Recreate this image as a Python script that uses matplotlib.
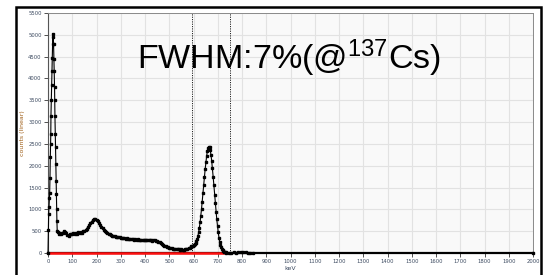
import matplotlib
matplotlib.use("Agg")
import matplotlib.pyplot as plt
from matplotlib.patches import Rectangle

plt.rcParams['mathtext.fontset'] = 'custom'
plt.rcParams['mathtext.rm'] = 'Liberation Sans'
plt.rcParams['mathtext.it'] = 'Liberation Sans'

# ---- data ----
# low-energy peak
peak1_kev = [0, 1.4, 2.7, 4.0, 5.4, 6.8, 8.2, 9.5, 10.9, 11.5, 12.2, 13.6, 15.0, 16.3, 17.7,
             19.0, 20.4, 21.8, 23.0, 24.5, 25.8, 27.0, 27.7, 28.6, 30.0, 31.3, 32.6, 34.0,
             34.7, 35.4, 36.7, 38.0]
peak1_counts = [0, 520, 890, 1050, 1250, 1370, 1730, 2190, 2500, 2730, 3150, 3500, 3840, 4180,
                4480, 4800, 5030, 4950, 4780, 4450, 4180, 3800, 3500, 3150, 2730, 2420, 2040,
                1660, 1350, 1010, 740, 510]
# continuum 40..585 keV every 5 keV
cont_kev = list(range(40, 586, 5))
cont_counts = [470, 435, 460, 425, 465, 505, 475, 455, 415, 390, 425, 445, 425, 455, 435, 465,
               445, 475, 450, 480, 465, 495, 500, 525, 560, 605, 640, 695, 720, 755, 770, 785,
               760, 735, 690, 645, 600, 565, 530, 505, 470, 465, 440, 425, 405, 400, 385, 390,
               370, 375, 358, 360, 347, 350, 336, 345, 327, 338, 322, 325, 316, 318, 320, 308,
               315, 302, 310, 298, 307, 297, 300, 303, 292, 300, 290, 297, 288, 295, 285, 292,
               294, 284, 275, 262, 245, 225, 205, 185, 170, 155, 140, 130, 120, 112, 105, 100,
               95, 92, 88, 85, 82, 80, 82, 78, 80, 85, 90, 100, 112, 125]
# 662 keV photopeak, every 3 keV
peak2_kev = list(range(588, 736, 3))
peak2_counts = [140, 150, 158, 165, 175, 190, 210, 235, 270, 320, 385, 470, 575, 700, 845,
                1005, 1180, 1365, 1555, 1740, 1915, 2075, 2215, 2330, 2410, 2440, 2420, 2355,
                2250, 2110, 1940, 1750, 1550, 1340, 1140, 945, 770, 610, 470, 355, 260, 185,
                130, 88, 60, 40, 28, 20, 14, 10]
# tail
tail_kev = [745, 755, 765, 775, 785, 795, 805, 815, 825, 835, 845, 2000]
tail_counts = [8, 6, 15, 10, 20, 12, 18, 15, 8, 4, 0, 0]

red_kev = [0, 720]
red_counts = [0, 0]

window_kev = [593, 750]
annotation = "FWHM:7%(@$^{137}$Cs)"

kev = peak1_kev + cont_kev + peak2_kev + tail_kev
counts = peak1_counts + cont_counts + peak2_counts + tail_counts

# ---- figure ----
fig = plt.figure(figsize=(5.49, 2.75), dpi=100)
ax = fig.add_axes([48 / 549, 22 / 275, 485 / 549, 240 / 275])
ax.set_facecolor('#f9f9f9')

ax.set_xlim(0, 2000)
ax.set_ylim(0, 5500)
ax.set_xticks(range(0, 2001, 100))
ax.set_yticks(range(0, 5501, 500))
ax.grid(True, color='#e2e2e2', lw=0.8, zorder=0)
ax.set_axisbelow(True)

tick_col = '#3c4a60'
ax.tick_params(axis='both', labelsize=3.8, colors='#333333', labelcolor=tick_col,
               length=3, width=0.6, pad=1.5)

for s in ['top', 'right']:
    ax.spines[s].set_color('#8a8a8a')
    ax.spines[s].set_linewidth(0.7)
ax.spines['left'].set_color('#555555')
ax.spines['left'].set_linewidth(0.8)
ax.spines['bottom'].set_color('black')
ax.spines['bottom'].set_linewidth(1.6)

for w in window_kev:
    ax.axvline(w, color='#222222', lw=0.7, ls=(0, (1.2, 1.2)), zorder=2)

ax.plot(red_kev, red_counts, color='#ff1010', lw=1.8, zorder=3, clip_on=False)
ax.plot(kev, counts, color='black', lw=0.8, marker='s', ms=2.0, mec='black', mfc='black',
        zorder=4, clip_on=False)

ax.set_xlabel('keV', fontsize=4.5, color=tick_col, labelpad=1.5)
ax.set_ylabel('counts (linear)', fontsize=4.5, color='#a0601a', labelpad=2)

fig.text(137 / 549, (275 - 69) / 275, annotation, fontsize=24.5, family='Liberation Sans',
         ha='left', va='baseline', color='black')

fig.patches.append(Rectangle((16 / 549, -0.05), 525 / 549, 1.05 - 7 / 275,
                             transform=fig.transFigure, fill=False, ec='black', lw=1.8))

fig.savefig('out.png', dpi=100)
